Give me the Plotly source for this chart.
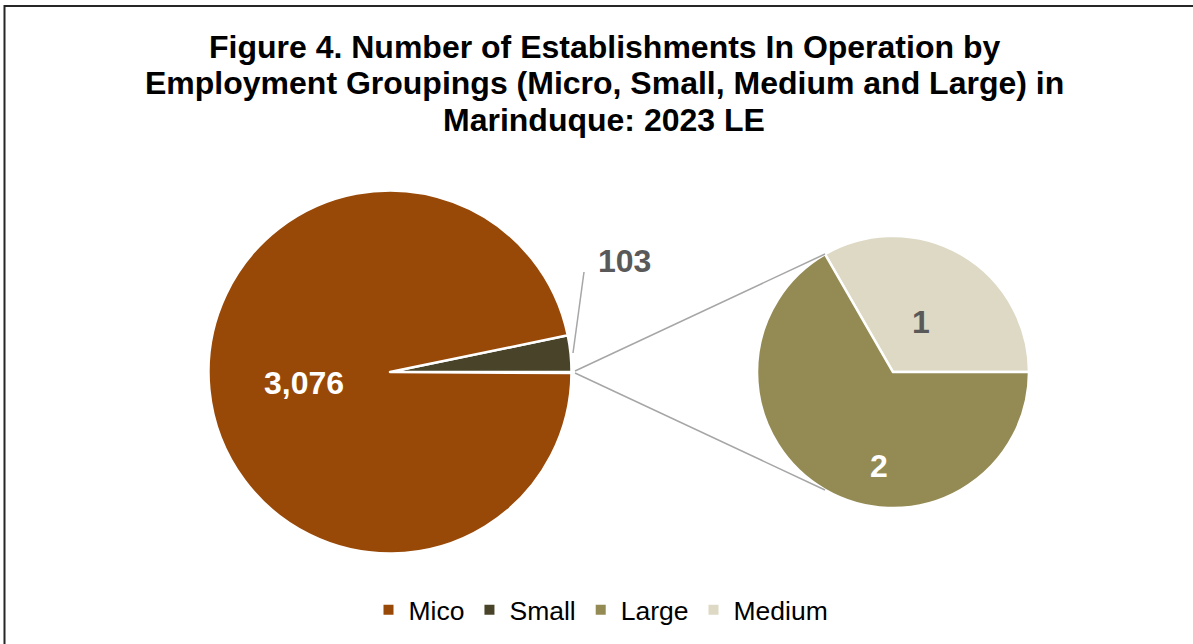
import plotly.graph_objects as go

W, H = 1193, 644

# ---- data ----
main_labels = ["Other", "Small", "Mico"]
main_values = [3, 103, 3076]
sub_labels = ["Medium", "Large"]
sub_values = [1, 2]
legend_labels = ["Mico", "Small", "Large", "Medium"]
colors = {"Mico": "#984807", "Small": "#494429", "Large": "#948A54",
          "Medium": "#DDD9C4", "Other": "#FFFFFF"}
title_lines = ["Figure 4. Number of Establishments In Operation by",
               "Employment Groupings (Micro, Small, Medium and Large) in",
               "Marinduque: 2023 LE"]

FONT = "Liberation Sans, Arial, sans-serif"


def px(x):
    return x / W


def py(y):
    return 1 - y / H


fig = go.Figure()

# main pie: centre (390,372), r 181.5
cx, cy, r = 390, 372, 181.5
fig.add_trace(go.Pie(
    labels=main_labels, values=main_values, sort=False, direction="counterclockwise",
    rotation=90, textinfo="none", hoverinfo="label+value", showlegend=False,
    marker=dict(colors=[colors[l] for l in main_labels], line=dict(color="white", width=2.5)),
    domain=dict(x=[px(cx - r), px(cx + r)], y=[py(cy + r), py(cy - r)]),
))

# secondary pie: centre (893,372), r 136 ; first slice (Medium) starts at 3 o'clock going up
sx, sy, sr = 893, 372, 136
sub_rot = 90 - 360 * sub_values[0] / sum(sub_values)
fig.add_trace(go.Pie(
    labels=sub_labels, values=sub_values, sort=False, direction="counterclockwise",
    rotation=sub_rot, textinfo="none", hoverinfo="label+value", showlegend=False,
    marker=dict(colors=[colors[l] for l in sub_labels], line=dict(color="white", width=2.5)),
    domain=dict(x=[px(sx - sr), px(sx + sr)], y=[py(sy + sr), py(sy - sr)]),
))

# legend entries
for lab in legend_labels:
    fig.add_trace(go.Scatter(
        x=[None], y=[None], mode="markers", name=lab,
        marker=dict(symbol="square", size=10, color=colors[lab]),
        showlegend=True,
    ))

ann = []
# title
for yv, line in zip([47, 83, 120], title_lines):
    ann.append(dict(x=px(604), y=py(yv), xref="paper", yref="paper", text=line,
                    showarrow=False, xanchor="center", yanchor="middle",
                    font=dict(family=FONT, size=32, color="black", weight="bold")))

# data labels
vals = dict(zip(main_labels + sub_labels, main_values + sub_values))
for lab, (x, y), col in [("Mico", (304, 383), "white"), ("Small", (624, 261), "#595959"),
                         ("Medium", (921, 322), "#595959"), ("Large", (879, 466), "white")]:
    ann.append(dict(x=px(x), y=py(y), xref="paper", yref="paper", text=f"{vals[lab]:,}",
                    showarrow=False, xanchor="center", yanchor="middle",
                    font=dict(family=FONT, size=32, color=col, weight="bold")))

shapes = [
    # leader line for 103
    dict(type="line", xref="paper", yref="paper", x0=px(584), y0=py(272), x1=px(573), y1=py(353),
         line=dict(color="#A6A6A6", width=1.5)),
    # connector lines
    dict(type="line", xref="paper", yref="paper", x0=px(575), y0=py(371), x1=px(825), y1=py(254),
         line=dict(color="#A6A6A6", width=1.5)),
    dict(type="line", xref="paper", yref="paper", x0=px(575), y0=py(373), x1=px(825), y1=py(490),
         line=dict(color="#A6A6A6", width=1.5)),
    # chart border
    dict(type="rect", xref="paper", yref="paper", x0=px(4.5), y0=-0.1, x1=1.1, y1=py(6),
         line=dict(color="#262626", width=2)),
]

fig.update_layout(
    width=W, height=H,
    margin=dict(l=0, r=0, t=0, b=0),
    paper_bgcolor="white", plot_bgcolor="white",
    xaxis=dict(visible=False), yaxis=dict(visible=False),
    annotations=ann, shapes=shapes,
    legend=dict(orientation="h", x=px(601), xanchor="center", y=py(610), yanchor="middle",
                font=dict(family=FONT, size=26.5, color="black"), itemwidth=30,
                bgcolor="rgba(0,0,0,0)"),
    font=dict(family=FONT),
)

fig.write_html("out.html", config={"displayModeBar": False},
               post_script="document.body.style.margin='0';")
